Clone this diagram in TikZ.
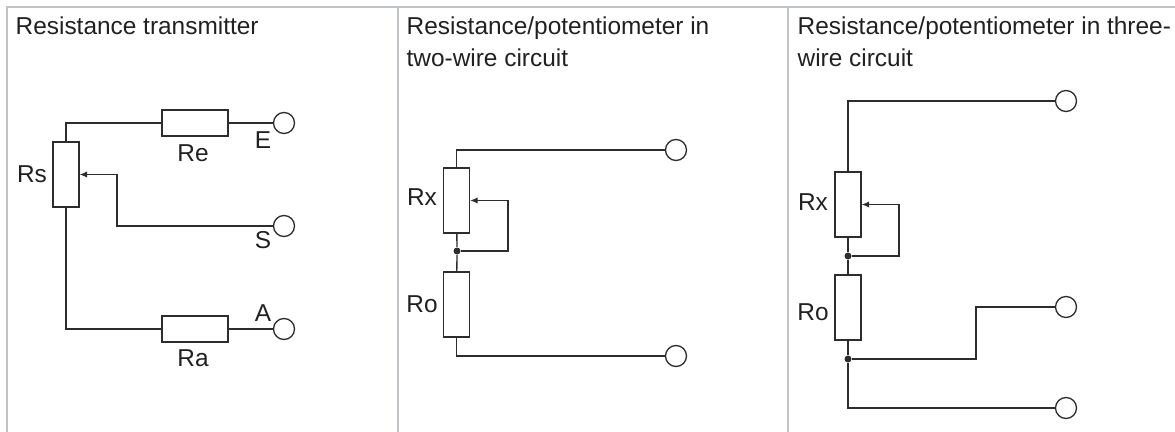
\documentclass[tikz,border=0pt]{standalone}
\usepackage{fontspec}
\setmainfont{Liberation Sans}
\usetikzlibrary{arrows.meta}
\definecolor{frame}{RGB}{190,195,200}
\definecolor{ink}{RGB}{45,45,45}
\definecolor{txt}{RGB}{33,33,33}
\tikzset{
	res/.style={rectangle, draw, minimum width=0.52cm, minimum height=1.3cm, inner sep=0pt},
	resh/.style={rectangle, draw, minimum width=1.32cm, minimum height=0.52cm, inner sep=0pt},
	term/.style={circle, draw, fill=white, minimum size=0.42cm, inner sep=0pt},
	junc/.style={circle, fill, minimum size=0.14cm, inner sep=0pt},
	lbl/.style={text=txt, inner sep=0pt},
	title/.style={text=txt, inner sep=0pt, anchor=base west},
	wiper/.style={-{Latex[length=0.15cm,width=0.13cm]}}
}
\begin{document}
\begin{tikzpicture}[x=0.02cm, y=-0.02cm, font=\fontsize{13.9}{16}\selectfont, line width=0.75pt, draw=ink, color=ink]
			\useasboundingbox (0,0) rectangle (1175,432);
			% frame
			\draw[frame, line width=1pt] (1175,7) -- (7,7) -- (7,432)
			(398,7) -- (398,432)
			(788,7) -- (788,432);
			% titles
			\node[title] (t1a) at (15,35) {Resistance transmitter};
			\node[title] (t2a) at (406,35) {Resistance/potentiometer in};
			\node[title] (t2b) at (406,67) {two-wire circuit};
			\node[title] (t3a) at (797,35) {Resistance/potentiometer in three-};
			\node[title] (t3b) at (797,67) {wire circuit};

			% resistance transmitter
			\draw (66,174.5) node [res] (rs) {};
			\draw (195,123) node [resh] (re) {};
			\draw (195,329) node [resh] (ra) {};
			\draw (284,123) node [term] (e) {};
			\draw (284,226) node [term] (s) {};
			\draw (284,329) node [term] (a) {};
			\coordinate (ws) at (117,226);
			\draw (rs.north) |- (re.west);
			\draw (rs.south) |- (ra.west);
			\path (re) edge (e)
			(ra) edge (a);
			\draw[wiper] (s) -- (ws) |- (rs.east);
			\node[lbl] (lrs) at (32,174) {Rs};
			\node[lbl] (lre) at (193,153) {Re};
			\node[lbl] (lra) at (193,358) {Ra};
			\node[lbl] (le) at (263,140) {E};
			\node[lbl] (ls) at (263,240) {S};
			\node[lbl] (la) at (263,313) {A};

			% two-wire circuit
			\draw (456.5,200.5) node [res] (rx2) {};
			\draw (456.5,304.5) node [res] (ro2) {};
			\draw (457,251) node [junc] (j2) {};
			\draw (676,150) node [term] (p2a) {};
			\draw (676,356) node [term] (p2b) {};
			\coordinate (w2) at (508,200.5);
			\draw (rx2.north) |- (p2a);
			\draw (ro2.south) |- (p2b);
			\path (rx2) edge (j2)
			(j2) edge (ro2);
			\draw[wiper] (j2) -| (w2) -- (rx2.east);
			\node[lbl] (lrx2) at (422,197) {Rx};
			\node[lbl] (lro2) at (422,304) {Ro};

			% three-wire circuit
			\draw (848,204.5) node [res] (rx3) {};
			\draw (848,307.5) node [res] (ro3) {};
			\draw (848,256) node [junc] (j3a) {};
			\draw (848,359) node [junc] (j3b) {};
			\draw (1066,101) node [term] (p3a) {};
			\draw (1066,307) node [term] (p3b) {};
			\draw (1066,408) node [term] (p3c) {};
			\coordinate (w3) at (899,204.5);
			\coordinate (b3) at (976,359);
			\draw (rx3.north) |- (p3a);
			\path (rx3) edge (j3a)
			(j3a) edge (ro3)
			(ro3) edge (j3b);
			\draw (j3b) -- (b3) |- (p3b);
			\draw (j3b) |- (p3c);
			\draw[wiper] (j3a) -| (w3) -- (rx3.east);
			\node[lbl] (lrx3) at (813,202) {Rx};
			\node[lbl] (lro3) at (813,312) {Ro};
		\end{tikzpicture}
\end{document}
